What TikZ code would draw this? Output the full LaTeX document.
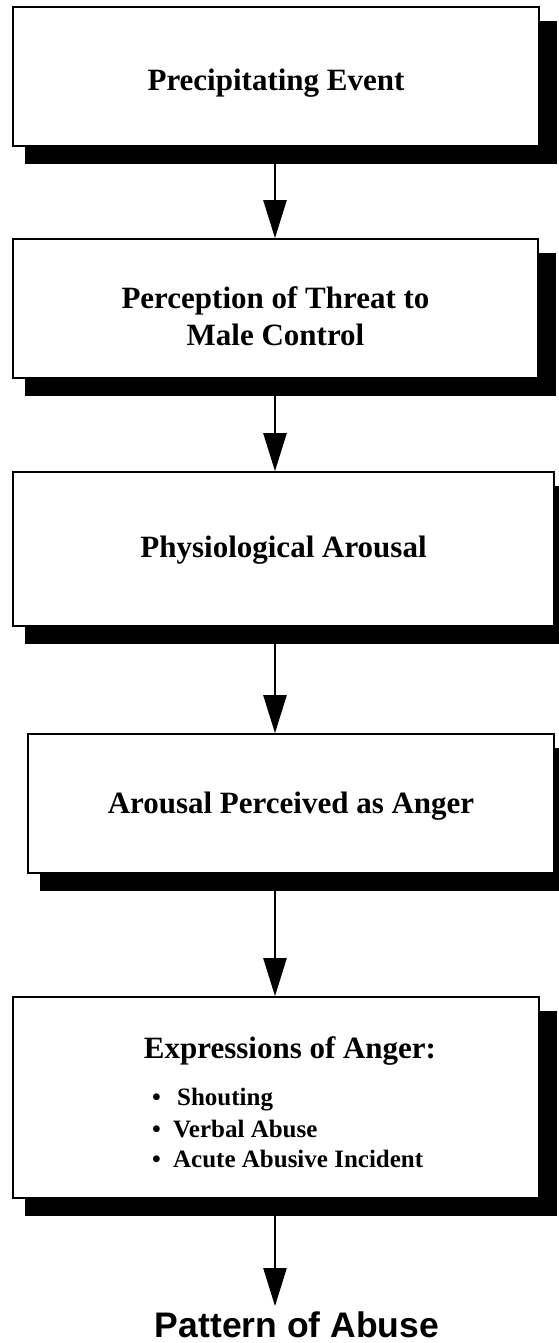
\documentclass[tikz,border=0pt]{standalone}
\usepackage{fontspec}
\setmainfont{Liberation Serif}
\newfontfamily\patfont{Liberation Sans}
\usetikzlibrary{arrows.meta,backgrounds}
\begin{document}
\begin{tikzpicture}[x=1pt,y=-1pt,
  box/.style={draw=black, line width=1.6pt, fill=white, inner sep=0pt},
  lbl/.style={font=\fontsize{31}{37}\selectfont\bfseries, anchor=base, inner sep=0pt},
  item/.style={font=\fontsize{25}{30}\selectfont\bfseries, anchor=base west, inner sep=0pt},
  arr/.style={line width=2.4pt, -{Triangle[width=23pt,length=38pt]}},
  shad/.style={fill=black}]
\useasboundingbox (0,0) rectangle (558,1343);
\clip (0,0) rectangle (558,1343);
\coordinate (axis) at (275,0);

% boxes
\node[box, minimum width=526pt, minimum height=139pt] (b1) at (276,76.5) {};
\node[box, minimum width=525pt, minimum height=139pt] (b2) at (275.5,308.5) {};
\node[box, minimum width=541pt, minimum height=154pt] (b3) at (283.5,549) {};
\node[box, minimum width=526pt, minimum height=139pt] (b4) at (291,803.5) {};
\node[box, minimum width=526pt, minimum height=201pt] (b5) at (276,1097.5) {};

% shadows
\begin{scope}[on background layer]
  \fill[white] (0,0) rectangle (558,1343);
  \foreach \b in {b1,b2,b3,b4,b5}{
    \fill[shad] ([shift={(13,15)}]\b.north west) rectangle ([shift={(17,17)}]\b.south east);
  }
\end{scope}

% texts
\node[lbl] (t1) at (276,91) {Precipitating Event};
\node[lbl] (t2) at (275.5,308) {Perception of Threat to};
\node[lbl] (t2b) at (275.5,345) {Male Control};
\node[lbl] (t3) at (283.5,557) {Physiological Arousal};
\node[lbl] (t4) at (291,813) {Arousal Perceived as Anger};
\node[lbl] (t5) at (290,1058) {Expressions of Anger:};
\node[item] (i1) at (152,1105) {\makebox[25pt][l]{•}Shouting};
\node[item] (i2) at (152,1137) {\makebox[21pt][l]{•}Verbal Abuse};
\node[item] (i3) at (152,1167) {\makebox[21pt][l]{•}Acute Abusive Incident};
\node[anchor=base, inner sep=0pt, font=\patfont\bfseries\fontsize{35.5}{40}\selectfont] (pat) at (297,1337) {Pattern of Abuse};

% arrows
\draw[arr] (b1.south -| axis) -- (b2.north -| axis);
\draw[arr] (b2.south -| axis) -- (b3.north -| axis);
\draw[arr] (b3.south -| axis) -- (b4.north -| axis);
\draw[arr] (b4.south -| axis) -- (b5.north -| axis);
\draw[arr, shorten >=5pt] (b5.south -| axis) -- (axis |- pat.north);
\end{tikzpicture}
\end{document}
